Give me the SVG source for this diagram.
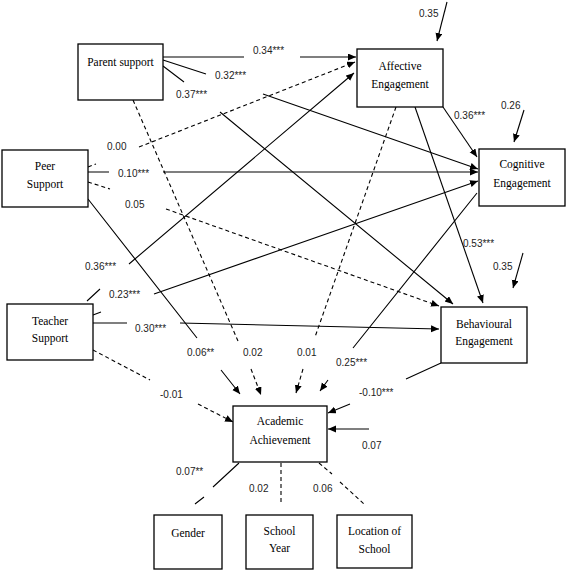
<svg xmlns="http://www.w3.org/2000/svg" width="567" height="571" viewBox="0 0 567 571">
<style>
.box{fill:#fff;stroke:#000;stroke-width:1.3}
.nt{font-family:"Liberation Serif","Times New Roman",serif;font-size:13.5px;fill:#000;text-anchor:middle}
.ln{fill:none;stroke:#000;stroke-width:1.1}
.ds{fill:none;stroke:#000;stroke-width:1.1;stroke-dasharray:4 3}
.lb{font-family:"Liberation Sans",Arial,sans-serif;font-size:10px;fill:#222}
</style>
<defs>
<marker id="ah" markerUnits="userSpaceOnUse" markerWidth="9" markerHeight="8" refX="8" refY="3.5" orient="auto">
<path d="M0,0 L8,3.5 L0,7 z" fill="#000"/>
</marker>
</defs>
<rect width="567" height="571" fill="#fff"/>
<g id="connectors">
<path class="ln" d="M163,57 H244 M300,57 H356" marker-end="url(#ah)"/>
<path class="ln" d="M163,60 L206,74 M263,94 L478,169" marker-end="url(#ah)"/>
<path class="ln" d="M163,66 L184,82 M220,112 L453,304" marker-end="url(#ah)"/>
<path class="ds" d="M133,100 L238,341 M251,369 L261,395" marker-end="url(#ah)"/>
<path class="ds" d="M88,167 L96,164 M139,147 L355,62" marker-end="url(#ah)"/>
<path class="ln" d="M88,172 H109 M163,172 H478" marker-end="url(#ah)"/>
<path class="ds" d="M88,182 L110,189 M166,209 L439,306" marker-end="url(#ah)"/>
<path class="ln" d="M88,199 L197,338 M221,370 L240,394" marker-end="url(#ah)"/>
<path class="ln" d="M87,301 L100,289 M129,264 L354,73" marker-end="url(#ah)"/>
<path class="ln" d="M93,315 L101,312 M154,294 L478,181" marker-end="url(#ah)"/>
<path class="ln" d="M93,323 H127 M180,323 L439,329" marker-end="url(#ah)"/>
<path class="ds" d="M93,350 L150,380 M198,404 L233,422" marker-end="url(#ah)"/>
<path class="ln" d="M443,107 L477,157" marker-end="url(#ah)"/>
<path class="ln" d="M415,107 L483,303" marker-end="url(#ah)"/>
<path class="ds" d="M396,107 L315,337 M303,369 L296,393" marker-end="url(#ah)"/>
<path class="ln" d="M477,193 L353,348 M328,380 L320,391" marker-end="url(#ah)"/>
<path class="ln" d="M441,363 L406,379 M350,404 L328,413" marker-end="url(#ah)"/>
<path class="ln" d="M447,2 L437,41" marker-end="url(#ah)"/>
<path class="ln" d="M524,110 L514,142" marker-end="url(#ah)"/>
<path class="ln" d="M523,253 L513,288" marker-end="url(#ah)"/>
<path class="ln" d="M369,429 H328" marker-end="url(#ah)"/>
<path class="ln" d="M239,463 L213,487 M204,497 L195,504"/>
<path class="ds" d="M281,463 V505"/>
<path class="ds" d="M319,463 L332,474 M340,482 L364,504"/>
</g>
<g id="labels">
<text class="lb" x="253" y="54">0.34***</text>
<text class="lb" x="215" y="79">0.32***</text>
<text class="lb" x="176" y="98">0.37***</text>
<text class="lb" x="243" y="356">0.02</text>
<text class="lb" x="107" y="150">0.00</text>
<text class="lb" x="118" y="177">0.10***</text>
<text class="lb" x="125" y="208">0.05</text>
<text class="lb" x="187" y="356">0.06**</text>
<text class="lb" x="85" y="270">0.36***</text>
<text class="lb" x="109" y="298">0.23***</text>
<text class="lb" x="135" y="332">0.30***</text>
<text class="lb" x="160" y="398">-0.01</text>
<text class="lb" x="454" y="119">0.36***</text>
<text class="lb" x="463" y="247">0.53***</text>
<text class="lb" x="297" y="356">0.01</text>
<text class="lb" x="336" y="366">0.25***</text>
<text class="lb" x="359" y="396">-0.10***</text>
<text class="lb" x="419" y="17">0.35</text>
<text class="lb" x="501" y="109">0.26</text>
<text class="lb" x="493" y="270">0.35</text>
<text class="lb" x="362" y="449">0.07</text>
<text class="lb" x="176" y="475">0.07**</text>
<text class="lb" x="249" y="492">0.02</text>
<text class="lb" x="313" y="492">0.06</text>
</g>
<g id="parent"><rect class="box" x="78" y="44" width="85" height="56"/><g transform="translate(120.5,0) scale(0.85,1)"><text class="nt" x="0" y="66">Parent support</text></g></g>
<g id="peer"><rect class="box" x="2" y="150" width="86" height="57"/><g transform="translate(45,0) scale(0.85,1)"><text class="nt" x="0" y="170">Peer</text><text class="nt" x="0" y="188">Support</text></g></g>
<g id="teacher"><rect class="box" x="7" y="304" width="86" height="56"/><g transform="translate(50,0) scale(0.85,1)"><text class="nt" x="0" y="325">Teacher</text><text class="nt" x="0" y="342">Support</text></g></g>
<g id="affective"><rect class="box" x="357" y="49" width="86" height="58"/><g transform="translate(400,0) scale(0.85,1)"><text class="nt" x="0" y="70">Affective</text><text class="nt" x="0" y="88">Engagement</text></g></g>
<g id="cognitive"><rect class="box" x="479" y="149" width="86" height="57"/><g transform="translate(522,0) scale(0.85,1)"><text class="nt" x="0" y="168">Cognitive</text><text class="nt" x="0" y="187">Engagement</text></g></g>
<g id="behavioural"><rect class="box" x="441" y="307" width="86" height="56"/><g transform="translate(484,0) scale(0.85,1)"><text class="nt" x="0" y="328">Behavioural</text><text class="nt" x="0" y="345">Engagement</text></g></g>
<g id="academic"><rect class="box" x="233" y="406" width="94" height="56"/><g transform="translate(280,0) scale(0.85,1)"><text class="nt" x="0" y="425">Academic</text><text class="nt" x="0" y="444">Achievement</text></g></g>
<g id="gender"><rect class="box" x="154" y="515" width="68" height="54"/><g transform="translate(188,0) scale(0.85,1)"><text class="nt" x="0" y="537">Gender</text></g></g>
<g id="schoolyear"><rect class="box" x="246" y="515" width="67" height="54"/><g transform="translate(279.5,0) scale(0.85,1)"><text class="nt" x="0" y="535">School</text><text class="nt" x="0" y="552">Year</text></g></g>
<g id="location"><rect class="box" x="337" y="515" width="75" height="53"/><g transform="translate(374.5,0) scale(0.85,1)"><text class="nt" x="0" y="535">Location of</text><text class="nt" x="0" y="553">School</text></g></g>
</svg>
